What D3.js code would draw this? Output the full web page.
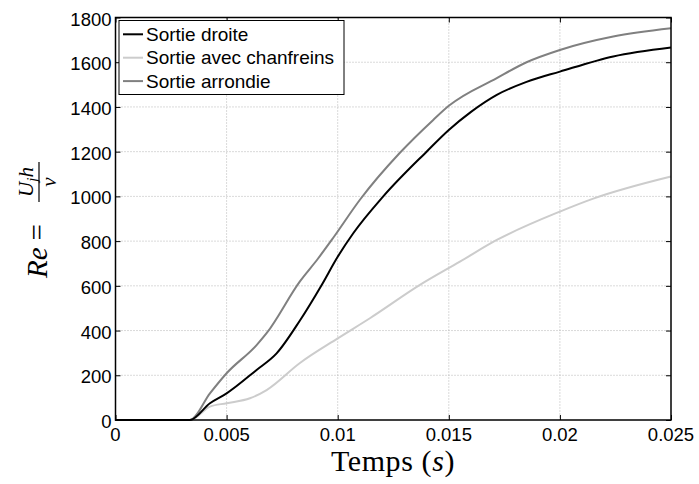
<!DOCTYPE html>
<html>
<head>
<meta charset="utf-8">
<script src="https://cdn.jsdelivr.net/npm/d3@7"></script>
<style>
  body { margin: 0; background: #fff; }
  svg { display: block; }
  .tick-label { font-family: "Liberation Sans", Arial, sans-serif; font-size: 18.5px; fill: #000; }
  .legend-label { font-family: "Liberation Sans", Arial, sans-serif; font-size: 19px; fill: #000; }
  .math { font-family: "Liberation Serif", "Times New Roman", serif; fill: #000; }
</style>
</head>
<body>
<div id="chart"></div>
<script>
// data: time (s) and Reynolds number
const seriesNames = ["Sortie droite", "Sortie avec chanfreins", "Sortie arrondie"];
const seriesColors = ["#000000", "#cccccc", "#808080"];

const droiteT = [0, 0.00335, 0.00425, 0.005, 0.00635, 0.00725, 0.0083, 0.00928, 0.010, 0.0107, 0.01205, 0.014, 0.015, 0.016, 0.01716, 0.0185, 0.02, 0.0224, 0.025];
const droiteRe = [0, 0, 75, 119, 224, 298, 445, 604, 730, 835, 1000, 1200, 1297, 1378, 1454, 1512, 1558, 1626, 1666];

const chanfT = [0, 0.00335, 0.00425, 0.005, 0.00605, 0.0068, 0.0083, 0.010, 0.01145, 0.0137, 0.0155, 0.01716, 0.02, 0.0215, 0.025];
const chanfRe = [0, 0, 60, 75, 97, 134, 255, 365, 455, 604, 708, 805, 932, 990, 1089];

const arrondieT = [0, 0.00335, 0.00425, 0.005, 0.00635, 0.0068, 0.0083, 0.0091, 0.0098, 0.011, 0.0128, 0.0143, 0.015, 0.01716, 0.0185, 0.02, 0.0224, 0.025];
const arrondieRe = [0, 0, 119, 209, 335, 388, 620, 720, 815, 985, 1195, 1342, 1405, 1529, 1600, 1655, 1715, 1752];

const xTicks = [0, 0.005, 0.01, 0.015, 0.02, 0.025];
const xTickLabels = ["0", "0.005", "0.01", "0.015", "0.02", "0.025"];
const yTicks = [0, 200, 400, 600, 800, 1000, 1200, 1400, 1600, 1800];

const width = 699, height = 484;
const margin = { left: 115.5, right: 671, top: 17.5, bottom: 420 };

const svg = d3.select("#chart").append("svg")
  .attr("width", width)
  .attr("height", height);

const x = d3.scaleLinear().domain([0, 0.025]).range([margin.left, margin.right]);
const y = d3.scaleLinear().domain([0, 1800]).range([margin.bottom, margin.top]);

// dotted grid
svg.append("g")
  .selectAll("line")
  .data(xTicks.slice(1, -1))
  .join("line")
  .attr("x1", d => x(d)).attr("x2", d => x(d))
  .attr("y1", margin.top).attr("y2", margin.bottom)
  .attr("stroke", "#b4b4b4").attr("stroke-width", 1)
  .attr("stroke-dasharray", "1,2");

svg.append("g")
  .selectAll("line")
  .data(yTicks.slice(1, -1))
  .join("line")
  .attr("x1", margin.left).attr("x2", margin.right)
  .attr("y1", d => y(d)).attr("y2", d => y(d))
  .attr("stroke", "#b4b4b4").attr("stroke-width", 1)
  .attr("stroke-dasharray", "1,2");

// series lines
const series = [
  droiteT.map((t, i) => [t, droiteRe[i]]),
  chanfT.map((t, i) => [t, chanfRe[i]]),
  arrondieT.map((t, i) => [t, arrondieRe[i]])
];

const line = d3.line()
  .x(d => x(d[0]))
  .y(d => y(d[1]))
  .curve(d3.curveMonotoneX);

// draw light one first so the dark ones sit on top
[1, 2, 0].forEach(i => {
  svg.append("path")
    .datum(series[i])
    .attr("fill", "none")
    .attr("stroke", seriesColors[i])
    .attr("stroke-width", 2)
    .attr("d", line);
});

// axes with inward ticks (matlab style, on all four sides)
const tickLen = 5;
svg.append("g")
  .attr("transform", `translate(0,${margin.bottom})`)
  .call(d3.axisBottom(x).tickValues(xTicks).tickSizeInner(-tickLen).tickSizeOuter(0).tickFormat(""));
svg.append("g")
  .attr("transform", `translate(0,${margin.top})`)
  .call(d3.axisTop(x).tickValues(xTicks).tickSizeInner(-tickLen).tickSizeOuter(0).tickFormat(""));
svg.append("g")
  .attr("transform", `translate(${margin.left},0)`)
  .call(d3.axisLeft(y).tickValues(yTicks).tickSizeInner(-tickLen).tickSizeOuter(0).tickFormat(""));
svg.append("g")
  .attr("transform", `translate(${margin.right},0)`)
  .call(d3.axisRight(y).tickValues(yTicks).tickSizeInner(-tickLen).tickSizeOuter(0).tickFormat(""));
svg.selectAll(".domain").remove();
svg.selectAll(".tick line").attr("stroke", "#000").attr("stroke-width", 1);

// frame
svg.append("rect")
  .attr("x", margin.left).attr("y", margin.top)
  .attr("width", margin.right - margin.left).attr("height", margin.bottom - margin.top)
  .attr("fill", "none").attr("stroke", "#000").attr("stroke-width", 1.5);

// tick labels
svg.append("g")
  .selectAll("text")
  .data(xTicks)
  .join("text")
  .attr("class", "tick-label")
  .attr("x", d => x(d))
  .attr("y", margin.bottom + 21)
  .attr("text-anchor", "middle")
  .text((d, i) => xTickLabels[i]);

svg.append("g")
  .selectAll("text")
  .data(yTicks)
  .join("text")
  .attr("class", "tick-label")
  .attr("x", margin.left - 4)
  .attr("y", d => y(d) + 8)
  .attr("text-anchor", "end")
  .text(d => d);

// x label: Temps (s)
const xl = svg.append("text")
  .attr("class", "math")
  .attr("x", 393)
  .attr("y", 471)
  .attr("text-anchor", "middle")
  .attr("font-size", 30)
  .attr("letter-spacing", 0.6);
xl.append("tspan").text("Temps (");
xl.append("tspan").attr("font-style", "italic").text("s");
xl.append("tspan").text(")");

// y label: Re = U_j h / nu, rotated
const yl = svg.append("g").attr("transform", "translate(46.5,278) rotate(-90)");
const re = yl.append("text").attr("class", "math").attr("font-size", 29).attr("x", 0).attr("y", 0);
re.append("tspan").attr("font-style", "italic").text("Re");
re.append("tspan").attr("dx", 7).text("=");
yl.append("line")
  .attr("x1", 76).attr("x2", 116)
  .attr("y1", -7.5).attr("y2", -7.5)
  .attr("stroke", "#000").attr("stroke-width", 1.2);
const num = yl.append("text").attr("class", "math").attr("font-size", 21)
  .attr("x", 96).attr("y", -14).attr("text-anchor", "middle").attr("font-style", "italic");
num.append("tspan").text("U");
num.append("tspan").attr("font-size", 15).attr("dy", 4).text("j");
num.append("tspan").attr("dy", -4).text("h");
yl.append("text").attr("class", "math").attr("font-size", 21)
  .attr("x", 96).attr("y", 9).attr("text-anchor", "middle").attr("font-style", "italic")
  .text("ν");

// legend
const legend = svg.append("g");
legend.append("rect")
  .attr("x", 119).attr("y", 20.5)
  .attr("width", 225).attr("height", 74)
  .attr("fill", "#fff").attr("stroke", "#000").attr("stroke-width", 1);
seriesNames.forEach((name, i) => {
  const ly = 34.3 + i * 23.4;
  legend.append("line")
    .attr("x1", 123).attr("x2", 143)
    .attr("y1", ly).attr("y2", ly)
    .attr("stroke", seriesColors[i]).attr("stroke-width", 2);
  legend.append("text")
    .attr("class", "legend-label")
    .attr("x", 146).attr("y", ly + 6.5)
    .text(name);
});
</script>
</body>
</html>
